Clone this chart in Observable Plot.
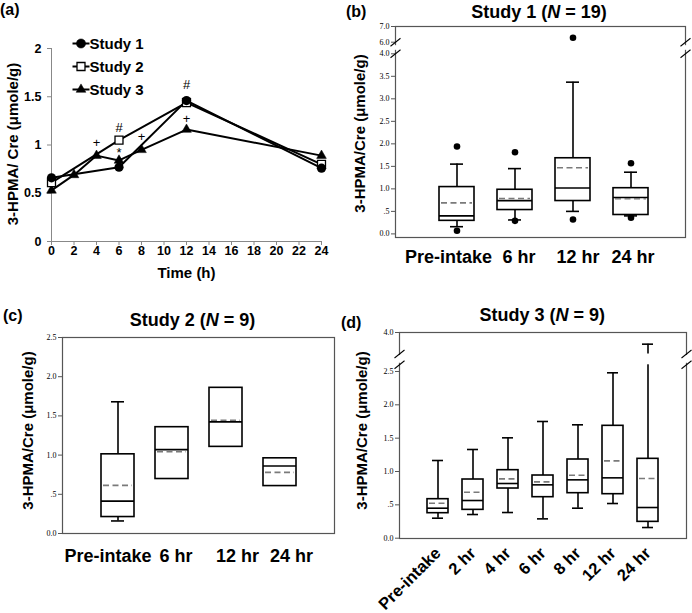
<!DOCTYPE html>
<html>
<head>
<meta charset="utf-8">
<script src="https://cdn.jsdelivr.net/npm/d3@7"></script>
<script src="https://cdn.jsdelivr.net/npm/@observablehq/plot@0.6"></script>
<style>
  html, body { margin: 0; padding: 0; background: #fff; }
  #root { position: relative; width: 692px; height: 613px; overflow: hidden; background: #fff;
          font-family: "Liberation Sans", Arial, Helvetica, sans-serif; color: #000; }
  .panel { position: absolute; }
  .txt { position: absolute; white-space: nowrap; font-weight: bold; font-family: "Liberation Sans", Arial, sans-serif; }
</style>
</head>
<body>
<div id="root"></div>
<script>
// ================= DATA =================
// ---- Panel (a): mean 3-HPMA/Cre over time ----
const timeTicks = [0, 2, 4, 6, 8, 10, 12, 14, 16, 18, 20, 22, 24];
const yTicksA = [0, 0.5, 1, 1.5, 2];
const seriesNames = ["Study 1", "Study 2", "Study 3"];
const times1 = [0, 6, 12, 24];
const study1 = [0.66, 0.77, 1.46, 0.76];
const times2 = [0, 6, 12, 24];
const study2 = [0.61, 1.05, 1.44, 0.80];
const times3 = [0, 2, 4, 6, 8, 12, 24];
const study3 = [0.53, 0.69, 0.89, 0.84, 0.95, 1.16, 0.89];
const annotTimes = [4, 6, 6, 8, 12, 12];
const annotValues = [1.02, 1.18, 0.92, 1.08, 1.62, 1.27];
const annotLabels = ["+", "#", "*", "+", "#", "+"];

// ---- Panel (b): Study 1 (N = 19) ----
const catsB = ["Pre-intake", "6 hr", "12 hr", "24 hr"];
const lowB = [0.16, 0.31, 0.50, 0.40];
const q1B = [0.29, 0.53, 0.73, 0.42];
const medianB = [0.40, 0.74, 1.02, 0.81];
const meanB = [0.69, 0.785, 1.47, 0.78];
const q3B = [1.04, 0.98, 1.68, 1.015];
const highB = [1.55, 1.45, 3.37, 1.37];
const outlierCatsB = ["Pre-intake", "Pre-intake", "6 hr", "6 hr", "12 hr", "12 hr", "24 hr", "24 hr"];
const outlierValsB = [1.94, 0.07, 1.815, 0.29, 6.28, 0.32, 1.57, 0.36];
const yTicksB = [0, 0.5, 1, 1.5, 2, 2.5, 3, 3.5, 4, 6, 7];
const breakB = [4, 6];

// ---- Panel (c): Study 2 (N = 9) ----
const catsC = ["Pre-intake", "6 hr", "12 hr", "24 hr"];
const lowC = [0.16, null, null, null];
const q1C = [0.21, 0.695, 1.105, 0.605];
const medianC = [0.413, 1.07, 1.424, 0.861];
const meanC = [0.614, 1.044, 1.445, 0.78];
const q3C = [1.01, 1.356, 1.858, 0.959];
const highC = [1.68, null, null, null];
const yTicksC = [0, 0.5, 1, 1.5, 2, 2.5];

// ---- Panel (d): Study 3 (N = 9) ----
const catsD = ["Pre-intake", "2 hr", "4 hr", "6 hr", "8 hr", "12 hr", "24 hr"];
const lowD = [0.30, 0.355, 0.385, 0.29, 0.45, 0.52, 0.16];
const q1D = [0.375, 0.425, 0.745, 0.615, 0.675, 0.66, 0.245];
const medianD = [0.45, 0.565, 0.82, 0.80, 0.875, 0.905, 0.46];
const meanD = [0.525, 0.69, 0.89, 0.845, 0.945, 1.16, 0.895];
const q3D = [0.585, 0.88, 1.02, 0.94, 1.18, 1.685, 1.19];
const highD = [1.165, 1.33, 1.505, 1.75, 1.70, 2.48, 3.81];
const yTicksD = [0, 0.5, 1, 1.5, 2, 2.5, 4];
const breakD = [2.6, 3.65];

const yLabelA = "3-HPMA/ Cre (\u03bcmole/g)";
const yLabelBox = "3-HPMA/Cre (\u03bcmole/g)";
const xLabelA = "Time (h)";

// ================= HELPERS =================
const SANS = "Liberation Sans, Arial, Helvetica, sans-serif";
const SERIF = "Liberation Serif, Times New Roman, Times, serif";
const root = document.getElementById("root");

function place(node, left, top) {
  node.classList.add("panel");
  node.style.position = "absolute";
  node.style.left = left + "px";
  node.style.top = top + "px";
  root.appendChild(node);
  return node;
}
function addText(html, left, baseline, size, center) {
  const d = document.createElement("div");
  d.className = "txt";
  d.innerHTML = html;
  d.style.fontSize = size + "px";
  d.style.lineHeight = size + "px";
  d.style.left = left + "px";
  d.style.top = (baseline - 0.8465 * size) + "px";
  if (center) d.style.transform = "translateX(-50%)";
  root.appendChild(d);
}
const fmtBox = d => d === 0 ? "0.0" : (d < 1 ? d3.format(".1f")(d).slice(1) : d3.format(".1f")(d));
const fmtA = d3.format("~g");
const slashSymbol = {
  draw(ctx, size) {
    const r = Math.sqrt(size / Math.PI);
    ctx.moveTo(-r, r * 0.8);
    ctx.lineTo(r, -r * 0.8);
  }
};

// ================= PANEL (a) =================
const rows1 = times1.map((t, i) => ({t, v: study1[i]}));
const rows2 = times2.map((t, i) => ({t, v: study2[i]}));
const rows3 = times3.map((t, i) => ({t, v: study3[i]}));
const annot = annotTimes.map((t, i) => ({t, v: annotValues[i], label: annotLabels[i]}));

const svgA = Plot.plot({
  width: 340, height: 290,
  marginLeft: 51, marginRight: 19, marginTop: 48, marginBottom: 49,
  style: {fontFamily: SANS, fontSize: "12px", background: "transparent", color: "black", overflow: "visible"},
  x: {domain: [0, 24]},
  y: {domain: [0, 2]},
  marks: [
    Plot.axisX({ticks: timeTicks, tickFormat: fmtA, tickSize: 4, tickPadding: 1, fontFamily: SANS, fontSize: 12.5, fontWeight: "bold", stroke: "#888", fill: "black", label: null}),
    Plot.axisY({ticks: yTicksA, tickFormat: fmtA, tickSize: 4, tickPadding: 6, fontFamily: SANS, fontSize: 12.5, fontWeight: "bold", stroke: "#888", fill: "black", label: null}),
    Plot.ruleY([0], {stroke: "#888"}),
    Plot.ruleX([0], {stroke: "#888"}),
    Plot.text([xLabelA], {text: d => d, frameAnchor: "bottom", dy: 36, textAnchor: "middle", fontFamily: SANS, fontSize: 15, fontWeight: "bold"}),
    Plot.text([yLabelA], {text: d => d, frameAnchor: "left", textAnchor: "middle", lineAnchor: "middle", dx: -38, dy: -1, rotate: -90, fontFamily: SANS, fontSize: 15, fontWeight: "bold"}),
    Plot.line(rows3, {x: "t", y: "v", stroke: "black", strokeWidth: 2}),
    Plot.line(rows2, {x: "t", y: "v", stroke: "black", strokeWidth: 2}),
    Plot.line(rows1, {x: "t", y: "v", stroke: "black", strokeWidth: 2}),
    Plot.dot(rows3, {x: "t", y: "v", symbol: "triangle", r: 3.6, fill: "black", stroke: "black", strokeWidth: 0.5}),
    Plot.dot(rows2, {x: "t", y: "v", symbol: "square", r: 4.5, fill: "white", stroke: "black", strokeWidth: 1.3}),
    Plot.dot(rows1, {x: "t", y: "v", symbol: "circle", r: 4.6, fill: "black"}),
    Plot.text(annot, {x: "t", y: "v", text: "label", fontFamily: SANS, fontSize: 13, fill: "black"})
  ]
});
place(svgA, 0, 0);

// legend for (a)
{
  const g = d3.select(svgA).append("g")
    .attr("font-family", SANS).attr("font-weight", "bold").attr("font-size", 15).attr("text-anchor", "start");
  const syms = [
    {type: d3.symbolCircle, r: 4.6, fill: "black"},
    {type: d3.symbolSquare, r: 4.5, fill: "white"},
    {type: d3.symbolTriangle, r: 3.6, fill: "black"}
  ];
  seriesNames.forEach((name, i) => {
    const y = 43.5 + i * 23;
    g.append("line").attr("x1", 72.5).attr("x2", 89.5).attr("y1", y).attr("y2", y)
      .attr("stroke", "black").attr("stroke-width", 2);
    g.append("path").attr("transform", `translate(81,${y})`)
      .attr("d", d3.symbol(syms[i].type, Math.PI * syms[i].r * syms[i].r)())
      .attr("fill", syms[i].fill).attr("stroke", "black").attr("stroke-width", i === 1 ? 1.3 : 0.5);
    g.append("text").attr("x", 89.5).attr("y", y).attr("dy", "0.36em")
      .attr("text-anchor", "start").attr("fill", "black").text(name);
  });
}

// ================= BOX PANELS =================
function boxPanel(cfg) {
  const rows = cfg.cats.map((c, i) => ({
    cat: c, low: cfg.low[i], q1: cfg.q1[i], median: cfg.median[i],
    mean: cfg.mean[i], q3: cfg.q3[i], high: cfg.high[i]
  }));
  const wh = rows.filter(d => d.high != null);
  const marks = [
    Plot.frame({stroke: "#555", strokeWidth: 1.2}),
    Plot.axisY({ticks: cfg.yTicks, tickFormat: fmtBox, tickSize: 4, tickPadding: 2,
      fontFamily: SERIF, fontSize: 8, stroke: "#555", fill: "black", label: null}),
    Plot.text([yLabelBox], {text: d => d, frameAnchor: "left", textAnchor: "middle", lineAnchor: "middle",
      dx: cfg.yLabelDx, dy: cfg.yLabelDy, rotate: -90, fontFamily: SANS, fontSize: 15, fontWeight: "bold"}),
    Plot.ruleX(wh, {x: "cat", y1: "q3", y2: "high", stroke: "black", strokeWidth: 1.6}),
    Plot.ruleX(wh, {x: "cat", y1: "low", y2: "q1", stroke: "black", strokeWidth: 1.6}),
    Plot.tickY(wh, {x: "cat", y: "high", insetLeft: cfg.capInset, insetRight: cfg.capInset, stroke: "black", strokeWidth: 1.6}),
    Plot.tickY(wh, {x: "cat", y: "low", insetLeft: cfg.capInset, insetRight: cfg.capInset, stroke: "black", strokeWidth: 1.6}),
    Plot.barY(rows, {x: "cat", y1: "q1", y2: "q3", fill: "white", stroke: "black", strokeWidth: 1.6}),
    Plot.tickY(rows, {x: "cat", y: "median", stroke: "black", strokeWidth: 1.6}),
    Plot.tickY(rows, {x: "cat", y: "mean", stroke: "#7a7a7a", strokeWidth: 1.6, strokeDasharray: "6,3.5",
      insetLeft: 2, insetRight: 2})
  ];
  if (cfg.rotate) {
    marks.push(Plot.axisX({tickSize: 0, tickPadding: cfg.labelPad, fontFamily: SANS, fontSize: cfg.labelSize,
      fontWeight: "bold", tickRotate: cfg.rotate, fill: "black", label: null}));
  } else {
    // category labels, individually nudged as in the original figure
    cfg.cats.forEach((c, i) => {
      marks.push(Plot.text([c], {x: d => d, frameAnchor: "bottom", text: d => d, dy: cfg.labelPad,
        dx: cfg.labelDx[i], textAnchor: "middle", lineAnchor: "top", fontFamily: SANS, fontSize: cfg.labelSize, fontWeight: "bold", fill: "black"}));
    });
  }
  if (cfg.outliers) {
    marks.push(Plot.dot(cfg.outliers, {x: "cat", y: "value", r: 3.3, fill: "black"}));
  }
  if (cfg.breaks) {
    if (cfg.whiskerGap) {
      marks.push(Plot.barY(rows, {x: "cat", y1: cfg.breaks[0], y2: cfg.breaks[1], fill: "white"}));
    }
    marks.push(Plot.rect([0], {y1: cfg.frameGap[0], y2: cfg.frameGap[1], fill: "white", insetLeft: -3, insetRight: -3}));
    for (const side of ["left", "right"]) {
      marks.push(Plot.dot(cfg.breaks, {y: d => d, frameAnchor: side, symbol: slashSymbol, r: 5,
        stroke: "black", strokeWidth: 1.1, fill: "none"}));
    }
  }
  const yOpt = {type: "linear", domain: cfg.yDomain};
  if (cfg.yRange) yOpt.range = cfg.yRange;
  return Plot.plot({
    width: cfg.width, height: cfg.height,
    marginLeft: cfg.m[0], marginRight: cfg.m[1], marginTop: cfg.m[2], marginBottom: cfg.m[3],
    style: {fontFamily: SANS, fontSize: "12px", background: "transparent", color: "black", overflow: "visible"},
    x: {type: "band", domain: cfg.cats, paddingInner: cfg.band[0], paddingOuter: cfg.band[1], align: cfg.band[2], axis: null},
    y: yOpt,
    marks
  });
}

// (b)
const svgB = boxPanel({
  cats: catsB, low: lowB, q1: q1B, median: medianB, mean: meanB, q3: q3B, high: highB,
  outliers: outlierCatsB.map((c, i) => ({cat: c, value: outlierValsB[i]})),
  yTicks: yTicksB, yDomain: [-0.08, breakB[0], breakB[1], 7], yRange: [237, 53.3, 41.7, 26],
  width: 352, height: 290, m: [55, 7, 26, 53], band: [0.405, 0.67, 0.536], capInset: 11,
  labelPad: 13, labelDx: [-8.5, 4, 5, 2], labelSize: 18, yLabelDx: -35, yLabelDy: 1.5,
  breaks: breakB, frameGap: [4.6, 5.4], whiskerGap: false
});
place(svgB, 340, 0);

// (c)
const svgC = boxPanel({
  cats: catsC, low: lowC, q1: q1C, median: medianC, mean: meanC, q3: q3C, high: highC,
  yTicks: yTicksC, yDomain: [0, 2.5],
  width: 340, height: 323, m: [62, 6, 47, 80], band: [0.394, 0.692, 0.5], capInset: 10,
  labelPad: 15.5, labelDx: [-10, 4, 11.5, 11.5], labelSize: 18, yLabelDx: -34, yLabelDy: -5
});
place(svgC, 0, 290);

// (d)
const svgD = boxPanel({
  cats: catsD, low: lowD, q1: q1D, median: medianD, mean: meanD, q3: q3D, high: highD,
  yTicks: yTicksD, yDomain: [0, breakD[0], breakD[1], 4], yRange: [247.7, 74.3, 63.5, 42],
  width: 352, height: 323, m: [59, 6, 42, 75], band: [0.4, 0.704, 0.5], capInset: 5,
  labelPad: 12, labelSize: 16.5, rotate: -45, yLabelDx: -37.5, yLabelDy: -5,
  breaks: breakD, frameGap: [2.75, 3.5], whiskerGap: true
});
place(svgD, 340, 290);

// ================= TITLES & PANEL TAGS =================
addText("(a)", 0, 15.5, 16, false);
addText("(b)", 346, 17.5, 16, false);
addText("(c)", 3, 322, 16, false);
addText("(d)", 341, 329, 16, false);
addText("Study 1 (<i>N</i> = 19)", 539, 18.5, 18, true);
addText("Study 2 (<i>N</i> = 9)", 192.5, 326.5, 18, true);
addText("Study 3 (<i>N</i> = 9)", 542.3, 321, 18, true);
</script>
</body>
</html>
